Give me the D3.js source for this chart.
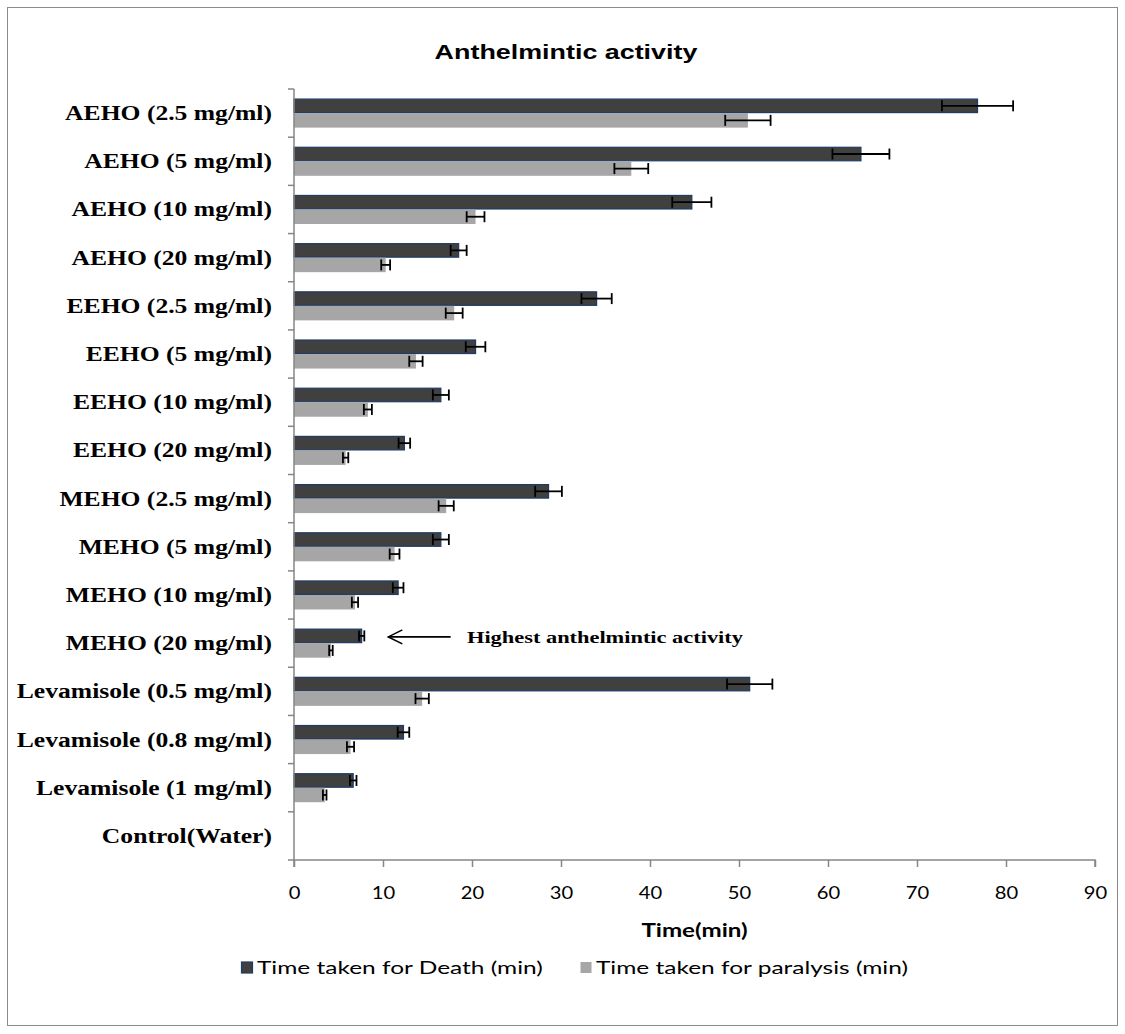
<!DOCTYPE html>
<html>
<head>
<meta charset="utf-8">
<script src="https://cdn.jsdelivr.net/npm/d3@7"></script>
<style>
  html, body { margin: 0; padding: 0; background: #fff; }
  svg { display: block; }
</style>
</head>
<body>
<svg id="chart" width="1125" height="1034"></svg>
<script>
// Treatment groups, top to bottom
const categories = [
  "AEHO (2.5 mg/ml)", "AEHO (5 mg/ml)", "AEHO (10 mg/ml)", "AEHO (20 mg/ml)",
  "EEHO (2.5 mg/ml)", "EEHO (5 mg/ml)", "EEHO (10 mg/ml)", "EEHO (20 mg/ml)",
  "MEHO (2.5 mg/ml)", "MEHO (5 mg/ml)", "MEHO (10 mg/ml)", "MEHO (20 mg/ml)",
  "Levamisole (0.5 mg/ml)", "Levamisole (0.8 mg/ml)", "Levamisole (1 mg/ml)",
  "Control(Water)"
];
// Time taken for death (min) and its error
const deathTime = [76.8, 63.7, 44.7, 18.5, 34.0, 20.4, 16.5, 12.4, 28.6, 16.5, 11.7, 7.6, 51.2, 12.3, 6.65, 0];
const deathErr  = [4.0, 3.2, 2.2, 0.9, 1.7, 1.1, 0.9, 0.65, 1.5, 0.9, 0.6, 0.3, 2.55, 0.65, 0.37, 0];
// Time taken for paralysis (min) and its error
const paralysisTime = [51.0, 37.9, 20.4, 10.3, 18.0, 13.7, 8.3, 5.8, 17.1, 11.3, 6.85, 4.15, 14.4, 6.35, 3.45, 0];
const paralysisErr  = [2.55, 1.9, 1.0, 0.5, 0.95, 0.75, 0.45, 0.3, 0.85, 0.55, 0.35, 0.2, 0.75, 0.4, 0.2, 0];
const xTicks = [0, 10, 20, 30, 40, 50, 60, 70, 80, 90];
const seriesNames = ["Time taken for Death (min)", "Time taken for paralysis (min)"];

const svg = d3.select("#chart");
const plot = { left: 294, right: 1095, top: 89, bottom: 860 };
const stretch = 1.28;   // text in this figure is set wide

const serif = "Liberation Serif, Times New Roman, serif";
const sans = "Liberation Sans, Arial, sans-serif";
const ui = "Lato, Carlito, Calibri, sans-serif";

// Outer chart frame
svg.append("rect")
  .attr("x", 7.5).attr("y", 7.5).attr("width", 1110).attr("height", 1018)
  .attr("fill", "#fff").attr("stroke", "#8c8c8c").attr("stroke-width", 1);

const x = d3.scaleLinear().domain([0, 90]).range([plot.left, plot.right]);
const y = d3.scaleBand().domain(categories).range([plot.top, plot.bottom]);
const series = d3.scaleBand().domain(["death", "paralysis"])
  .range([0, y.bandwidth()]).paddingInner(0).paddingOuter(0.66);

const rows = categories.map((c, i) => ({
  cat: c,
  bars: [
    { key: "death", v: deathTime[i], e: deathErr[i] },
    { key: "paralysis", v: paralysisTime[i], e: paralysisErr[i] }
  ]
}));

const axisColor = "#868686";

// Widened text helper
function wideText(parent, px, py, sx, str) {
  return parent.append("text")
    .attr("transform", `translate(${px},${py}) scale(${sx},1)`)
    .text(str);
}

// Title
wideText(svg, 566, 59, stretch, "Anthelmintic activity")
  .attr("text-anchor", "middle")
  .attr("font-family", sans)
  .attr("font-weight", "bold").attr("font-size", 21);

// Bars
const groups = svg.append("g").selectAll("g").data(rows).join("g")
  .attr("transform", d => `translate(0,${y(d.cat)})`);

groups.selectAll("rect").data(d => d.bars.filter(b => b.v > 0)).join("rect")
  .attr("x", x(0))
  .attr("y", b => series(b.key) + (b.key === "death" ? 0.5 : 0))
  .attr("width", b => x(b.v) - x(0))
  .attr("height", b => series.bandwidth() - (b.key === "death" ? 1 : 0))
  .attr("fill", b => b.key === "death" ? "#404040" : "#a6a6a6")
  .attr("stroke", b => b.key === "death" ? "#1f3b66" : "none")
  .attr("stroke-width", 1.2);

// Error bars
const eb = groups.selectAll("g.err").data(d => d.bars.filter(b => b.v > 0)).join("g")
  .attr("class", "err")
  .attr("transform", b => `translate(0,${series(b.key) + series.bandwidth() / 2})`);
eb.append("line")
  .attr("x1", b => x(b.v - b.e)).attr("x2", b => x(b.v + b.e))
  .attr("y1", 0).attr("y2", 0)
  .attr("stroke", "#000").attr("stroke-width", 1.8);
eb.selectAll("line.cap").data(b => [b.v - b.e, b.v + b.e]).join("line")
  .attr("class", "cap")
  .attr("x1", v => x(v)).attr("x2", v => x(v))
  .attr("y1", -5.5).attr("y2", 5.5)
  .attr("stroke", "#000").attr("stroke-width", 1.8);

// Y axis (category)
const yAxis = svg.append("g")
  .attr("transform", `translate(${plot.left},0)`);
yAxis.append("line")
  .attr("x1", 0).attr("x2", 0).attr("y1", plot.top).attr("y2", plot.bottom)
  .attr("stroke", axisColor).attr("stroke-width", 1.5);
const yTickPos = categories.map(c => y(c)).concat([plot.bottom]);
yAxis.selectAll("line.tick").data(yTickPos).join("line")
  .attr("class", "tick")
  .attr("x1", -6).attr("x2", 0).attr("y1", d => d).attr("y2", d => d)
  .attr("stroke", axisColor).attr("stroke-width", 1.5);
yAxis.selectAll("text").data(categories).join("text")
  .attr("transform", c => `translate(-22,${y(c) + y.bandwidth() / 2}) scale(${stretch},1)`)
  .attr("dy", "0.35em")
  .attr("text-anchor", "end")
  .attr("font-family", serif)
  .attr("font-weight", "bold").attr("font-size", 20)
  .attr("fill", "#000")
  .text(c => c);

// X axis (time)
const xAxis = svg.append("g")
  .attr("transform", `translate(0,${plot.bottom})`)
  .call(d3.axisBottom(x).tickValues(xTicks).tickSize(7).tickFormat(d3.format("d")));
xAxis.select(".domain").attr("stroke", axisColor).attr("stroke-width", 1.5)
  .attr("d", `M${plot.left},7V0H${plot.right}V7`);
xAxis.selectAll(".tick line").attr("stroke", axisColor).attr("stroke-width", 1.5);
xAxis.selectAll(".tick text")
  .attr("y", 26)
  .attr("transform", "scale(1.12,1)")
  .attr("font-family", ui)
  .attr("font-size", 18).attr("fill", "#000");

wideText(svg, (plot.left + plot.right) / 2, 937, 1.34, "Time(min)")
  .attr("text-anchor", "middle")
  .attr("font-family", ui)
  .attr("font-weight", "bold").attr("font-size", 18);

// Annotation for the most active extract
const noteRow = "MEHO (20 mg/ml)";
const noteY = y(noteRow) + series("death") + series.bandwidth() / 2 + 1;
const arrowTipX = x(10.6), arrowTailX = x(17.6);
const note = svg.append("g").attr("stroke", "#000").attr("stroke-width", 1.6).attr("fill", "none");
note.append("line").attr("x1", arrowTailX).attr("x2", arrowTipX).attr("y1", noteY).attr("y2", noteY);
note.append("path")
  .attr("d", `M${arrowTipX + 14},${noteY - 7}L${arrowTipX},${noteY}L${arrowTipX + 14},${noteY + 7}`);
wideText(svg, 467, noteY, stretch, "Highest anthelmintic activity")
  .attr("dy", "0.35em")
  .attr("font-family", serif)
  .attr("font-weight", "bold").attr("font-size", 17.5);

// Legend
const legend = svg.append("g").attr("transform", "translate(0,968)");
const legendItems = [
  { name: seriesNames[0], x: 241, fill: "#404040", stroke: "#1f3b66" },
  { name: seriesNames[1], x: 580, fill: "#a6a6a6", stroke: "none" }
];
const li = legend.selectAll("g").data(legendItems).join("g")
  .attr("transform", d => `translate(${d.x},0)`);
li.append("rect")
  .attr("x", 0.5).attr("y", -6).attr("width", 11).attr("height", 11)
  .attr("fill", d => d.fill).attr("stroke", d => d.stroke).attr("stroke-width", 1.2);
li.append("text")
  .attr("transform", "translate(16,0) scale(1.36,1)")
  .attr("dy", "0.35em")
  .attr("font-family", ui)
  .attr("font-size", 18)
  .text(d => d.name);
</script>
</body>
</html>
